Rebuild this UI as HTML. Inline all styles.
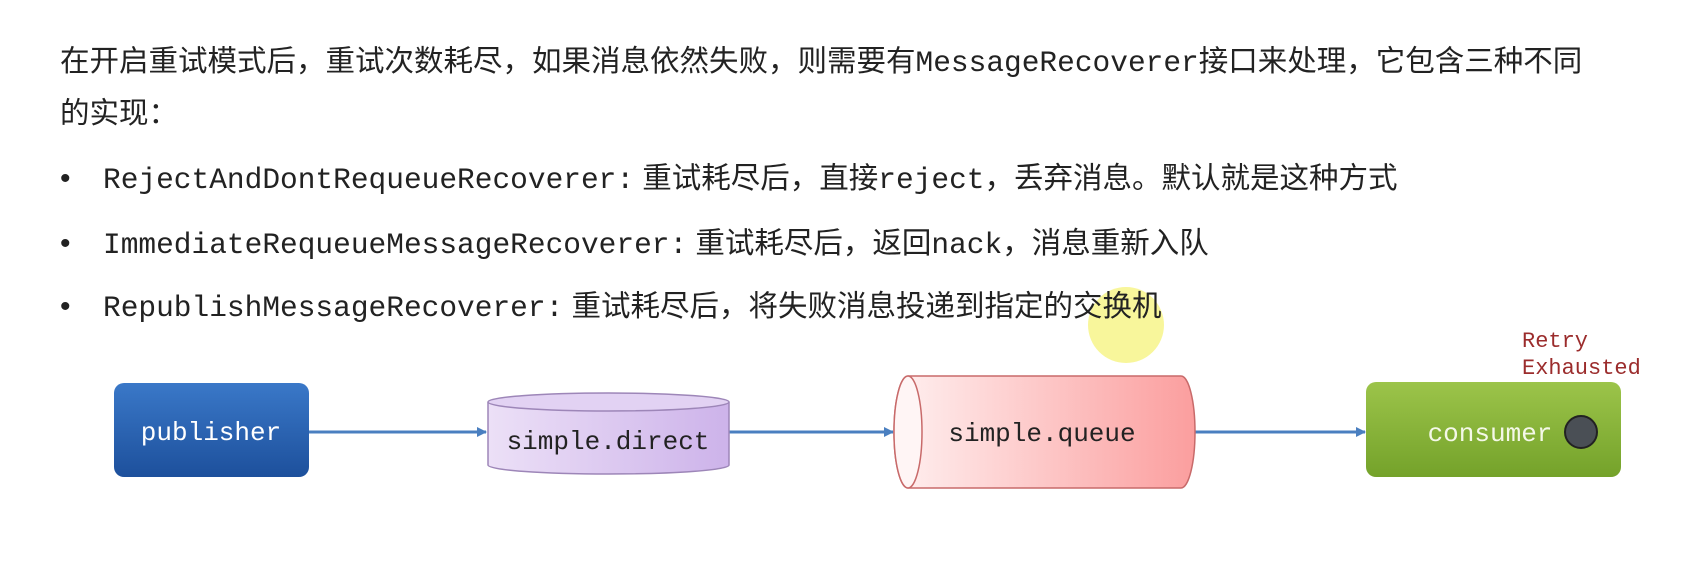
<!DOCTYPE html>
<html><head><meta charset="utf-8"><style>
body{margin:0;width:1692px;height:572px;background:#fff;overflow:hidden;position:relative;font-family:"Liberation Sans","Noto Sans CJK SC",sans-serif;color:#222}
.t{position:absolute;font-size:29.5px;white-space:nowrap;line-height:30px;z-index:2}
.m{font-family:"Liberation Mono","Noto Sans CJK SC",monospace}
.b{position:absolute;left:60px;font-size:30px;line-height:30px;z-index:2}
svg{z-index:1}
</style></head><body>
<div class="t" style="left:60px;top:47px">在开启重试模式后，重试次数耗尽，如果消息依然失败，则需要有<span class="m">MessageRecoverer</span>接口来处理，它包含三种不同</div>
<div class="t" style="left:60px;top:99px">的实现：</div>
<div class="b" style="top:164px">•</div>
<div class="t" style="left:103px;top:164px"><span class="m">RejectAndDontRequeueRecoverer:</span> 重试耗尽后，直接<span class="m">reject</span>，丢弃消息。默认就是这种方式</div>
<div class="b" style="top:229px">•</div>
<div class="t" style="left:103px;top:229px"><span class="m">ImmediateRequeueMessageRecoverer:</span> 重试耗尽后，返回<span class="m">nack</span>，消息重新入队</div>
<div class="b" style="top:292px">•</div>
<div class="t" style="left:103px;top:292px"><span class="m">RepublishMessageRecoverer:</span> 重试耗尽后，将失败消息投递到指定的交换机</div>
<svg width="1692" height="572" style="position:absolute;left:0;top:0">
<defs>
<linearGradient id="bl" x1="0" y1="0" x2="0" y2="1"><stop offset="0" stop-color="#3a78c8"/><stop offset="1" stop-color="#1d509c"/></linearGradient>
<linearGradient id="gr" x1="0" y1="0" x2="0" y2="1"><stop offset="0" stop-color="#9cc44a"/><stop offset="1" stop-color="#74a22a"/></linearGradient>
<linearGradient id="pu" x1="0" y1="0" x2="1" y2="0"><stop offset="0" stop-color="#ece0f7"/><stop offset="1" stop-color="#cdb3ea"/></linearGradient>
<linearGradient id="rd" x1="0" y1="0" x2="1" y2="0"><stop offset="0" stop-color="#fff0f0"/><stop offset="1" stop-color="#fb9e9e"/></linearGradient>
<marker id="ar" markerWidth="10" markerHeight="10" refX="9" refY="5" orient="auto" markerUnits="userSpaceOnUse"><path d="M0,0 L10,5 L0,10 z" fill="#4a7fc0"/></marker>
</defs>
<circle cx="1126" cy="325" r="38" fill="#f7f58a" opacity="0.85"/>
<g stroke="#4a7fc0" stroke-width="3" marker-end="url(#ar)">
<line x1="309" y1="432" x2="486" y2="432"/>
<line x1="729" y1="432" x2="893" y2="432"/>
<line x1="1189" y1="432" x2="1365" y2="432"/>
</g>
<rect x="114" y="383" width="195" height="94" rx="10" fill="url(#bl)"/>
<text x="211" y="440" text-anchor="middle" fill="#fff" font-family="Liberation Mono" font-size="26">publisher</text>
<path d="M488,402 L488,465 A120.5,9 0 0 0 729,465 L729,402" fill="url(#pu)" stroke="#9d86b8" stroke-width="1.5"/>
<ellipse cx="608.5" cy="402" rx="120.5" ry="9" fill="#e2d2f3" stroke="#9d86b8" stroke-width="1.5"/>
<text x="608" y="449" text-anchor="middle" fill="#222" font-family="Liberation Mono" font-size="26">simple.direct</text>
<path d="M908,376 L1181,376 A14,56 0 0 1 1181,488 L908,488 A14,56 0 0 1 908,376 z" fill="url(#rd)" stroke="#c86a6a" stroke-width="1.5"/>
<ellipse cx="908" cy="432" rx="14" ry="56" fill="#fff5f5" stroke="#c86a6a" stroke-width="1.5"/>
<text x="1042" y="441" text-anchor="middle" fill="#222" font-family="Liberation Mono" font-size="26">simple.queue</text>
<rect x="1366" y="382" width="255" height="95" rx="10" fill="url(#gr)"/>
<text x="1490" y="441" text-anchor="middle" fill="#f4f8e8" font-family="Liberation Mono" font-size="26">consumer</text>
<circle cx="1581" cy="432" r="16" fill="#4a4f55" stroke="#222" stroke-width="2"/>
<text x="1522" y="347" fill="#9b2c2c" font-family="Liberation Mono" font-size="22">Retry</text>
<text x="1522" y="374" fill="#9b2c2c" font-family="Liberation Mono" font-size="22">Exhausted</text>
</svg>
</body></html>
